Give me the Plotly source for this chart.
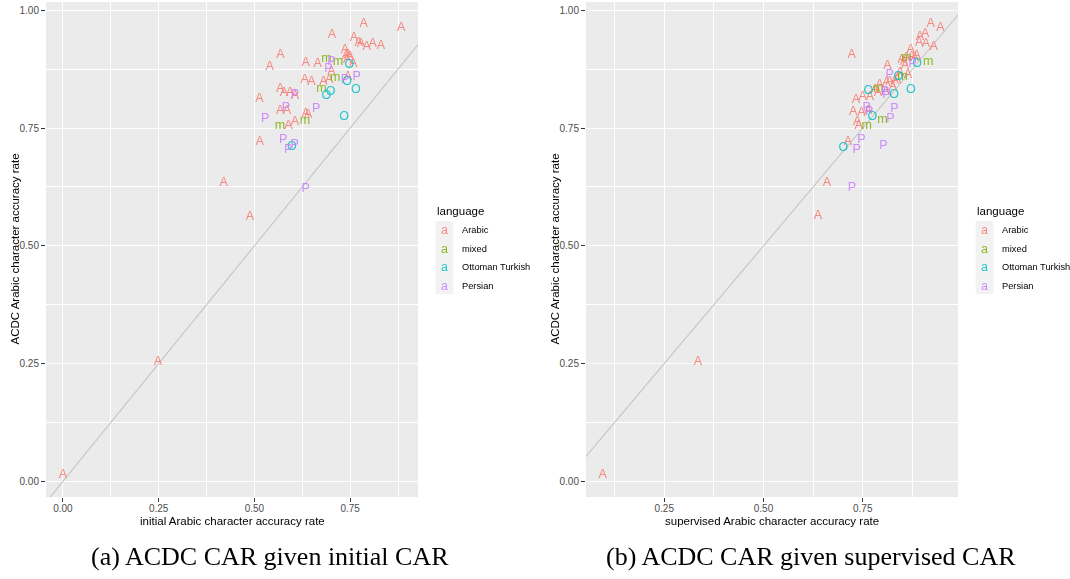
import plotly.graph_objects as go

# ---------------- data ----------------
languages = ["Arabic", "mixed", "Ottoman Turkish", "Persian"]
letters = ["A", "m", "O", "P"]
colors = ["#F8766D", "#7CAE00", "#00BFC4", "#C77CFF"]

# panel (a): initial CAR vs ACDC CAR
init_arabic_x = [0.000, 0.248, 0.420, 0.488, 0.514, 0.513, 0.540, 0.568, 0.567, 0.577, 0.593,
                 0.606, 0.567, 0.585, 0.589, 0.606, 0.634, 0.640, 0.631, 0.649, 0.680, 0.695,
                 0.634, 0.665, 0.701, 0.744, 0.702, 0.736, 0.739, 0.745, 0.749, 0.742, 0.758,
                 0.760, 0.772, 0.778, 0.793, 0.809, 0.830, 0.785, 0.883]
init_arabic_y = [0.013, 0.254, 0.634, 0.561, 0.720, 0.811, 0.880, 0.905, 0.834, 0.825, 0.825,
                 0.819, 0.787, 0.787, 0.754, 0.763, 0.780, 0.778, 0.852, 0.848, 0.848, 0.852,
                 0.889, 0.886, 0.870, 0.859, 0.948, 0.916, 0.903, 0.905, 0.901, 0.894, 0.887,
                 0.942, 0.931, 0.928, 0.923, 0.928, 0.925, 0.971, 0.962]
init_mixed_x = [0.688, 0.718, 0.711, 0.675, 0.567, 0.632]
init_mixed_y = [0.897, 0.891, 0.857, 0.834, 0.754, 0.766]
init_ottoman_x = [0.748, 0.742, 0.699, 0.765, 0.688, 0.734, 0.598]
init_ottoman_y = [0.884, 0.848, 0.827, 0.832, 0.818, 0.773, 0.710]
init_persian_x = [0.701, 0.693, 0.736, 0.767, 0.606, 0.582, 0.661, 0.528, 0.575, 0.588, 0.605, 0.634]
init_persian_y = [0.890, 0.876, 0.852, 0.858, 0.820, 0.792, 0.790, 0.769, 0.725, 0.703, 0.714, 0.622]

# panel (b): supervised CAR vs ACDC CAR
sup_arabic_x = [0.095, 0.335, 0.637, 0.660, 0.713, 0.733, 0.722, 0.812, 0.726, 0.747, 0.764,
                0.736, 0.740, 0.781, 0.768, 0.808, 0.810, 0.818, 0.831, 0.844, 0.864, 0.848,
                0.854, 0.860, 0.873, 0.881, 0.886, 0.871, 0.892, 0.894, 0.907, 0.909, 0.929,
                0.921, 0.946, 0.793, 0.826, 0.750, 0.856, 0.788, 0.836]
sup_arabic_y = [0.013, 0.254, 0.563, 0.633, 0.721, 0.810, 0.905, 0.881, 0.785, 0.783, 0.787,
                0.763, 0.754, 0.832, 0.817, 0.827, 0.846, 0.848, 0.850, 0.868, 0.862, 0.894,
                0.891, 0.899, 0.901, 0.898, 0.903, 0.916, 0.931, 0.943, 0.949, 0.929, 0.923,
                0.971, 0.963, 0.841, 0.837, 0.816, 0.882, 0.824, 0.852]
sup_mixed_x = [0.860, 0.915, 0.850, 0.789, 0.760, 0.800]
sup_mixed_y = [0.898, 0.891, 0.858, 0.834, 0.754, 0.767]
sup_ottoman_x = [0.887, 0.840, 0.764, 0.829, 0.871, 0.774, 0.701]
sup_ottoman_y = [0.887, 0.858, 0.830, 0.820, 0.831, 0.773, 0.709]
sup_persian_x = [0.876, 0.818, 0.810, 0.760, 0.830, 0.820, 0.747, 0.735, 0.802, 0.723, 0.806, 0.766]
sup_persian_y = [0.887, 0.863, 0.820, 0.792, 0.790, 0.770, 0.726, 0.703, 0.712, 0.623, 0.827, 0.784]

x_ticks_a = [0.0, 0.25, 0.5, 0.75]
x_ticks_b = [0.25, 0.5, 0.75]
y_ticks = [0.0, 0.25, 0.5, 0.75, 1.0]
minor_ticks = [0.125, 0.375, 0.625, 0.875]

x_title_a = "initial Arabic character accuracy rate"
x_title_b = "supervised Arabic character accuracy rate"
y_title = "ACDC Arabic character accuracy rate"
caption_a = "(a) ACDC CAR given initial CAR"
caption_b = "(b) ACDC CAR given supervised CAR"
legend_title = "language"

panel_a = [(init_arabic_x, init_arabic_y), (init_mixed_x, init_mixed_y),
           (init_ottoman_x, init_ottoman_y), (init_persian_x, init_persian_y)]
panel_b = [(sup_arabic_x, sup_arabic_y), (sup_mixed_x, sup_mixed_y),
           (sup_ottoman_x, sup_ottoman_y), (sup_persian_x, sup_persian_y)]

# ---------------- figure ----------------
W, H = 1070, 579
fig = go.Figure()

def px_x(p):
    return p / W

def px_y(p):
    return 1 - p / H

for xa, ya, data in (("x", "y", panel_a), ("x2", "y2", panel_b)):
    fig.add_trace(go.Scatter(x=[-0.5, 1.5], y=[-0.5, 1.5], mode="lines",
                             line=dict(color="#C4C4C4", width=1.1),
                             xaxis=xa, yaxis=ya, showlegend=False, hoverinfo="skip"))
    for (xs, ys), letter, col, lang in zip(data, letters, colors, languages):
        fig.add_trace(go.Scatter(x=xs, y=ys, mode="text", text=[letter] * len(xs),
                                 textposition="middle center",
                                 textfont=dict(family="Liberation Sans, Arial, sans-serif",
                                               size=12.5, color=col),
                                 opacity=0.85, name=lang,
                                 xaxis=xa, yaxis=ya, showlegend=False))

axis_common = dict(showgrid=True, gridcolor="white", gridwidth=1.1, zeroline=False,
                   showline=False, ticks="outside", ticklen=4, tickcolor="#333333",
                   tickwidth=1, tickfont=dict(family="Liberation Sans, Arial, sans-serif",
                                              size=10, color="#4D4D4D"),
                   minor=dict(tickvals=minor_ticks, showgrid=True, gridcolor="white",
                              gridwidth=0.55, ticklen=0),
                   fixedrange=True)

ydom = [px_y(497), px_y(2)]
fig.update_layout(
    width=W, height=H, margin=dict(l=0, r=0, t=0, b=0),
    paper_bgcolor="white", plot_bgcolor="#EBEBEB", showlegend=False,
    xaxis=dict(domain=[px_x(46), px_x(418)], range=[-0.044, 0.927], anchor="y",
               tickvals=x_ticks_a, ticktext=["%.2f" % v for v in x_ticks_a],
               ticklabelstandoff=-2, **axis_common),
    yaxis=dict(domain=ydom, range=[-0.033, 1.0176], anchor="x",
               tickvals=y_ticks, ticktext=["%.2f" % v for v in y_ticks], **axis_common),
    xaxis2=dict(domain=[px_x(586), px_x(958)], range=[0.053, 0.990], anchor="y2",
                tickvals=x_ticks_b, ticktext=["%.2f" % v for v in x_ticks_b],
                ticklabelstandoff=-2, **axis_common),
    yaxis2=dict(domain=ydom, range=[-0.033, 1.0176], anchor="x2",
                tickvals=y_ticks, ticktext=["%.2f" % v for v in y_ticks], **axis_common),
)

ann = []
shapes = []
sans = "Liberation Sans, Arial, sans-serif"
# axis titles
for cx, t in ((232, x_title_a), (772, x_title_b)):
    ann.append(dict(x=px_x(cx), y=px_y(521), xref="paper", yref="paper", text=t,
                    showarrow=False, font=dict(family=sans, size=11.5, color="black"),
                    xanchor="center", yanchor="middle"))
for cx in (14, 554):
    ann.append(dict(x=px_x(cx), y=px_y(249.5), xref="paper", yref="paper", text=y_title,
                    textangle=-90, showarrow=False,
                    font=dict(family=sans, size=11.5, color="black"),
                    xanchor="center", yanchor="middle"))
# captions
for cx, t in ((270, caption_a), (811, caption_b)):
    ann.append(dict(x=px_x(cx), y=px_y(556), xref="paper", yref="paper", text=t,
                    showarrow=False,
                    font=dict(family="Liberation Serif, DejaVu Serif, serif", size=26, color="black"),
                    xanchor="center", yanchor="middle"))
# legends
key_y = [230, 249, 267.3, 285.7]
for lx in (435, 975):
    ann.append(dict(x=px_x(lx), y=px_y(210.7), xref="paper", yref="paper", text=legend_title,
                    showarrow=False, font=dict(family=sans, size=11.5, color="black"),
                    xanchor="left", yanchor="middle"))
    shapes.append(dict(type="rect", xref="paper", yref="paper",
                       x0=px_x(lx + 0.7), x1=px_x(lx + 18.3), y0=px_y(294), y1=px_y(221),
                       fillcolor="#F2F2F2", line=dict(width=0), layer="below"))
    for ky, letter_col, lang in zip(key_y, colors, languages):
        ann.append(dict(x=px_x(lx + 9.3), y=px_y(ky), xref="paper", yref="paper", text="a",
                        showarrow=False, opacity=0.85,
                        font=dict(family=sans, size=12.5, color=letter_col),
                        xanchor="center", yanchor="middle"))
        ann.append(dict(x=px_x(lx + 25), y=px_y(ky), xref="paper", yref="paper", text=lang,
                        showarrow=False, font=dict(family=sans, size=9.3, color="black"),
                        xanchor="left", yanchor="middle"))

fig.update_layout(annotations=ann, shapes=shapes)
fig.write_html("out.html", config={"displayModeBar": False},
               post_script="document.body.style.margin='0';document.body.style.overflow='hidden';")
